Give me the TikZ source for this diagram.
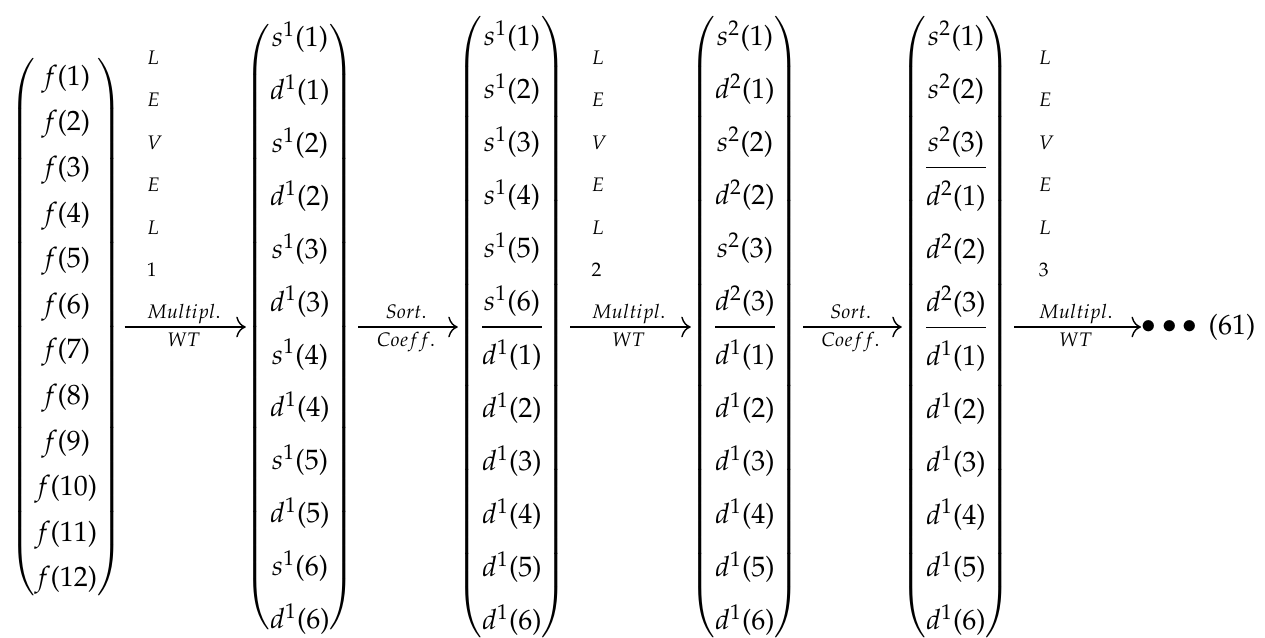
\documentclass[tikz,border=0pt]{standalone}
\usepackage{mathpazo}
\usepackage{array}
\DeclareSymbolFont{largesymbols}{OMX}{cmex}{m}{n}
\DeclareMathDelimiter{(}{\mathopen}{operators}{"28}{largesymbols}{"00}
\DeclareMathDelimiter{)}{\mathclose}{operators}{"29}{largesymbols}{"01}
\usetikzlibrary{arrows.meta}
\newcommand{\mycolvec}[3]{\delimitershortfall=#2\left(\renewcommand{\arraystretch}{#1}\begin{array}{@{}c@{}}#3\end{array}\right)}
\begin{document}
\begin{tikzpicture}[x=0.357pt,y=-0.357pt,
  vec/.style={inner sep=0pt,outer sep=0pt},
  arr/.style={-{Computer Modern Rightarrow[length=3.4pt,width=7.4pt,line width=0.5pt]},line width=0.5pt},
  lbl/.style={inner sep=0pt,outer sep=0pt,font=\scriptsize}]
\useasboundingbox (0,0) rectangle (1265,638);

\node[vec] (c1) at (66,327) {$\mycolvec{1.357}{9pt}{f(1)\\ f(2)\\ f(3)\\ f(4)\\ f(5)\\ f(6)\\ f(7)\\ f(8)\\ f(9)\\ f(10)\\ f(11)\\ f(12)}$};
\node[vec] (c2) at (300,327) {$\mycolvec{1.575}{10.8pt}{s^1(1)\\ d^1(1)\\ s^1(2)\\ d^1(2)\\ s^1(3)\\ d^1(3)\\ s^1(4)\\ d^1(4)\\ s^1(5)\\ d^1(5)\\ s^1(6)\\ d^1(6)}$};
\node[vec] (c3) at (512,327) {$\mycolvec{1.575}{10.8pt}{s^1(1)\\ s^1(2)\\ s^1(3)\\ s^1(4)\\ s^1(5)\\ s^1(6)\\ \hline d^1(1)\\ d^1(2)\\ d^1(3)\\ d^1(4)\\ d^1(5)\\ d^1(6)}$};
\node[vec] (c4) at (745,327) {$\mycolvec{1.575}{10.8pt}{s^2(1)\\ d^2(1)\\ s^2(2)\\ d^2(2)\\ s^2(3)\\ d^2(3)\\ \hline d^1(1)\\ d^1(2)\\ d^1(3)\\ d^1(4)\\ d^1(5)\\ d^1(6)}$};
\node[vec] (c5) at (956,327) {$\mycolvec{1.575}{10.8pt}{s^2(1)\\ s^2(2)\\ s^2(3)\\ \hline d^2(1)\\ d^2(2)\\ d^2(3)\\ \hline d^1(1)\\ d^1(2)\\ d^1(3)\\ d^1(4)\\ d^1(5)\\ d^1(6)}$};

\node[vec,anchor=west] (dots) at (1141,327) {$\bullet\bullet\bullet$};
\node[vec,anchor=base] (eqn) at (1232,335) {$(61)$};

\draw[arr,shorten <=1pt] (c1.east) -- (c2.west)
  node[lbl,midway,anchor=base,yshift=2.86pt] (m1) {$Multipl.$}
  node[lbl,midway,anchor=base,yshift=-7.14pt] (w1) {$WT$};
\draw[arr,shorten <=1.5pt] (c2.east) -- (c3.west)
  node[lbl,midway,anchor=base,yshift=2.86pt] (s2) {$Sort.$}
  node[lbl,midway,anchor=base,yshift=-7.14pt] (k2) {$Coeff.$};
\draw[arr,shorten <=1.5pt] (c3.east) -- (c4.west)
  node[lbl,midway,anchor=base,yshift=2.86pt] (m3) {$Multipl.$}
  node[lbl,midway,anchor=base,yshift=-7.14pt] (w3) {$WT$};
\draw[arr,shorten <=1.5pt] (c4.east) -- (c5.west)
  node[lbl,midway,anchor=base,yshift=2.86pt] (s4) {$Sort.$}
  node[lbl,midway,anchor=base,yshift=-7.14pt] (k4) {$Coeff.$};
\draw[arr,shorten <=1.5pt] (c5.east) -- (dots.west)
  node[lbl,midway,anchor=base,yshift=2.86pt] (m5) {$Multipl.$}
  node[lbl,midway,anchor=base,yshift=-7.14pt] (w5) {$WT$};

\foreach \m/\n in {m1/1,m3/2,m5/3}{
  \foreach \t [count=\k] in {L,E,V,E,L,\n}{
    \node[lbl,anchor=base west] (\m-lv\k) at ([yshift={(7-\k)*15.14pt}]\m.base west) {$\t$};
  }
}
\end{tikzpicture}
\end{document}
